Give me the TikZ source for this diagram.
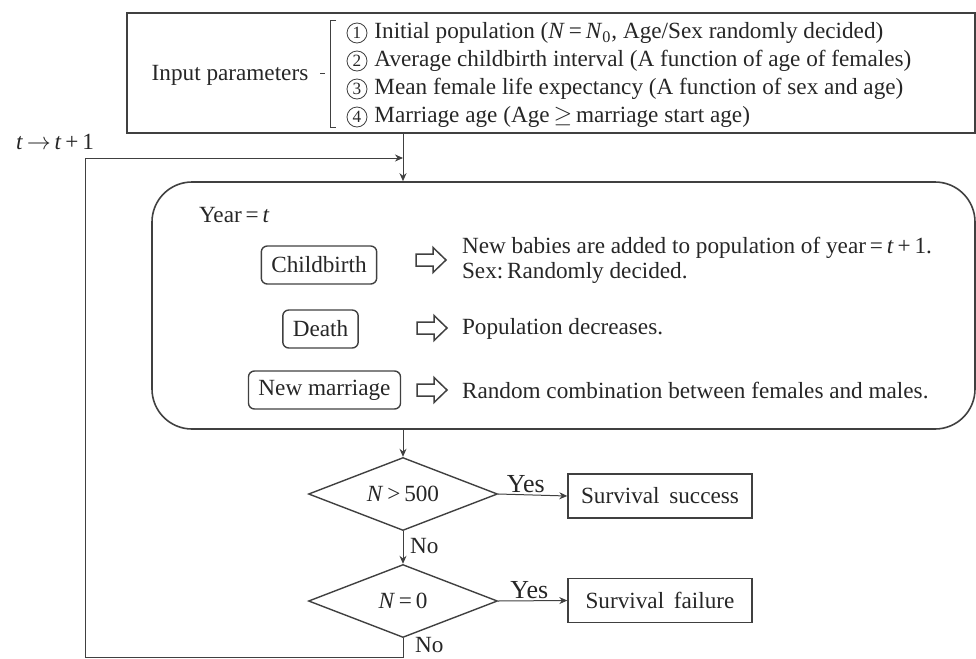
\documentclass[tikz,border=0pt]{standalone}
\usepackage{fontspec}
\setmainfont{Liberation Serif}
\usetikzlibrary{arrows.meta, positioning, shapes.geometric}

\definecolor{ink}{HTML}{262626}
\definecolor{rule}{HTML}{404040}

\tikzset{hollowarrow/.pic={
    \draw[draw=rule, line width=0.75pt, line join=miter] (-15,-6) -- (2,-6) -- (2,-12.5) -- (15,0) -- (2,12.5) -- (2,6) -- (-15,6) -- cycle;
}}

\begin{document}
\begin{tikzpicture}[x=0.5pt, y=-0.5pt, font=\fontsize{11.6pt}{14pt}\selectfont, text=ink,
    frame/.style={draw=rule, line width=0.8pt},
    stepbox/.style={draw=rule, line width=0.7pt, rounded corners=3pt, inner xsep=5pt, minimum height=19pt},
    endbox/.style={draw=rule, line width=0.7pt, minimum width=92pt, minimum height=22pt},
    test/.style={diamond, draw=rule, line width=0.7pt, minimum width=94.5pt, minimum height=36.5pt, aspect=2.6, inner sep=0pt},
    numcirc/.style={circle, draw=rule, line width=0.4pt, minimum size=10pt, inner sep=0pt, font=\fontsize{8.6pt}{8.6pt}\selectfont},
    answer/.style={font=\fontsize{13pt}{13pt}\selectfont},
    flow/.style={-{Stealth[length=4pt, width=3.5pt]}, draw=rule, line width=0.5pt}]
    \useasboundingbox (0,0) rectangle (976,659);

    % Input parameters
    \node[frame, minimum width=424pt, minimum height=60pt] (inbox) at (551,73) {};
    \node (inlabel) at (230,75) {Input parameters};
    \draw[rule, line width=0.5pt] (320,73) -- (325,73);
    \draw[rule, line width=0.5pt] (336,20) -- (330,20) -- (330,127) -- (336,127);
    \node[numcirc] (c1) at (357,33) {1};
    \node[numcirc] (c2) at (357,61) {2};
    \node[numcirc] (c3) at (357,89) {3};
    \node[numcirc] (c4) at (357,117) {4};
    \node[right=0pt of c1] (p1) {Initial population (\textit{N}\,=\,\textit{N}\textsubscript{0}, Age/Sex randomly decided)};
    \node[right=0pt of c2] (p2) {Average childbirth interval (A function of age of females)};
    \node[right=0pt of c3] (p3) {Mean female life expectancy (A function of sex and age)};
    \node[right=0pt of c4] (p4) {Marriage age (Age\,$\geq$\,marriage start age)};

    % Year loop
    \node (next) at (55,142) {\textit{t}\,$\rightarrow$\,\textit{t}\,+\,1};
    \node[frame, rounded corners=20pt, minimum width=411.5pt, minimum height=123.5pt] (yearbox) at (563.5,305.5) {};
    \node[anchor=west] (year) at (192,215) {Year\,=\,\textit{t}};

    % Events
    \node[stepbox] (birth) at (319,265) {Childbirth};
    \node[stepbox] (death) at (320.5,329) {Death};
    \node[stepbox] (marry) at (324.5,390) {New marriage};
    \pic (a1) at (431,260) {hollowarrow};
    \pic (a2) at (432,328) {hollowarrow};
    \pic (a3) at (432,390) {hollowarrow};
    \node[anchor=west, align=left, font=\fontsize{11.6pt}{12.6pt}\selectfont] (birthtxt) at (455,260)
        {New babies are added to population of year\,=\,\textit{t}\,+\,1.\\Sex:\,Randomly decided.};
    \node[anchor=west] (deathtxt) at (455,329) {Population decreases.};
    \node[anchor=west] (marrytxt) at (455,390) {Random combination between females and males.};

    % Checks
    \node[test] (test1) at (403,494) {\textit{N}\,>\,500};
    \node[test] (test2) at (403,601) {\textit{N}\,=\,0};
    \node[endbox] (success) at (660,496) {Survival\, success};
    \node[endbox] (failure) at (660,600.5) {Survival\, failure};

    \coordinate (merge) at (test1.north |- 0,158);
    \coordinate (corner) at (85,657);

    \draw[flow] (inbox.south -| test1.north) -- (test1.north |- yearbox.north);
    \draw[flow] (test1.north |- yearbox.south) -- (test1.north);
    \draw[flow] (test1.south) -- (test2.north) node[pos=0.45, right] {No};
    \draw[flow] (test1.east) -- (success.west) node[pos=0.4, above, answer, inner sep=1pt] {Yes};
    \draw[flow] (test2.east) -- (failure.west) node[pos=0.45, above, answer, inner sep=1pt] {Yes};
    \draw[flow] (test2.south) -- (test2.south |- corner) -- (corner) -- (corner |- merge) -- (merge);
    \node[right] (no2) at (408,645) {No};
\end{tikzpicture}
\end{document}
